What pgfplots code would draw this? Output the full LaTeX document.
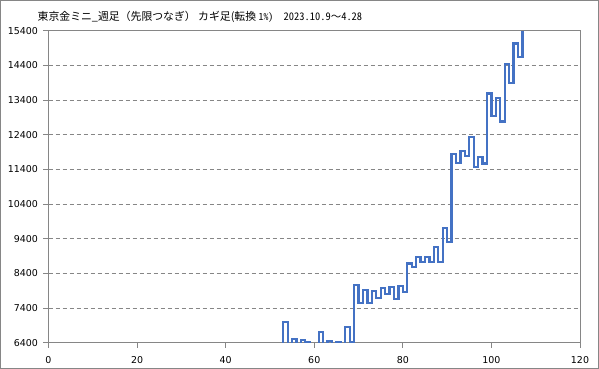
\documentclass[border=0pt]{standalone}
\usepackage{pgfplots}
\pgfplotsset{compat=1.18}
\usepackage{fontspec}
\setmainfont{DejaVu Sans}
\newfontfamily\jpfont{Noto Sans CJK JP}
\newfontfamily\jphw[RawFeature=+hwid]{Noto Sans CJK JP}
\definecolor{kagiblue}{RGB}{68,114,196}
\definecolor{axgray}{RGB}{134,134,134}
\begin{document}
\begin{tikzpicture}
\useasboundingbox (0bp,0bp) rectangle (599bp,369bp);
\draw[axgray, line width=1bp] (0.5bp,0.5bp) rectangle (598.5bp,368.5bp);
\node[anchor=west, inner sep=0pt, font=\jpfont\fontsize{10.9}{13}\selectfont] at (37.5bp,352bp) {東京金ミニ\_週足（先限つなぎ） カギ足(転換 {\jphw\fontsize{9.8}{12}\selectfont 1\%)}{\fontsize{10.5}{12}\selectfont{\jphw\ \ 2023.10.9}～{\jphw 4.28}}};
\begin{axis}[
  at={(48.5bp,26.3bp)}, anchor=south west,
  width=531.5bp, height=312bp, scale only axis,
  xmin=0, xmax=120, ymin=6400, ymax=15400,
  xtick={0,20,...,120}, ytick={6400,7400,...,15400},
  xtick pos=bottom, ytick pos=left,
  tick align=outside, major tick length=5bp,
  axis line style={axgray, line width=1bp},
  tick style={axgray, line width=1bp},
  ymajorgrids, grid style={axgray, dash pattern=on 4bp off 3bp, line width=1bp},
  ticklabel style={font=\fontsize{9.5}{11}\selectfont},
  yticklabel style={xshift=-2bp},
  xticklabel style={yshift=-5bp},
  /pgf/number format/assume math mode=true,
  /pgf/number format/1000 sep={},
  scaled y ticks=false,
]
\addplot[const plot, kagiblue, line width=2.2bp] coordinates {
(52,6300) (53,7000) (54,6300) (55,6510) (56,6300) (57,6480) (58,6410) (59,6300)
(61,6710) (62,6300) (63,6460) (64,6300) (65,6430) (66,6300) (67,6856) (68,6415)
(69,8070) (70,7555) (71,7914) (72,7555) (73,7890) (74,7680) (75,7970) (76,7800)
(77,8010) (78,7655) (79,8040) (80,7865) (81,8685) (82,8590) (83,8875) (84,8730)
(85,8875) (86,8730) (87,9163) (88,8730) (89,9711) (90,9307) (91,11837) (92,11586)
(93,11932) (94,11780) (95,12340) (96,11470) (97,11750) (98,11570) (99,13590) (100,12950)
(101,13465) (102,12780) (103,14430) (104,13900) (105,15030) (106,14640) (107,15400)
};
\end{axis}
\end{tikzpicture}
\end{document}
